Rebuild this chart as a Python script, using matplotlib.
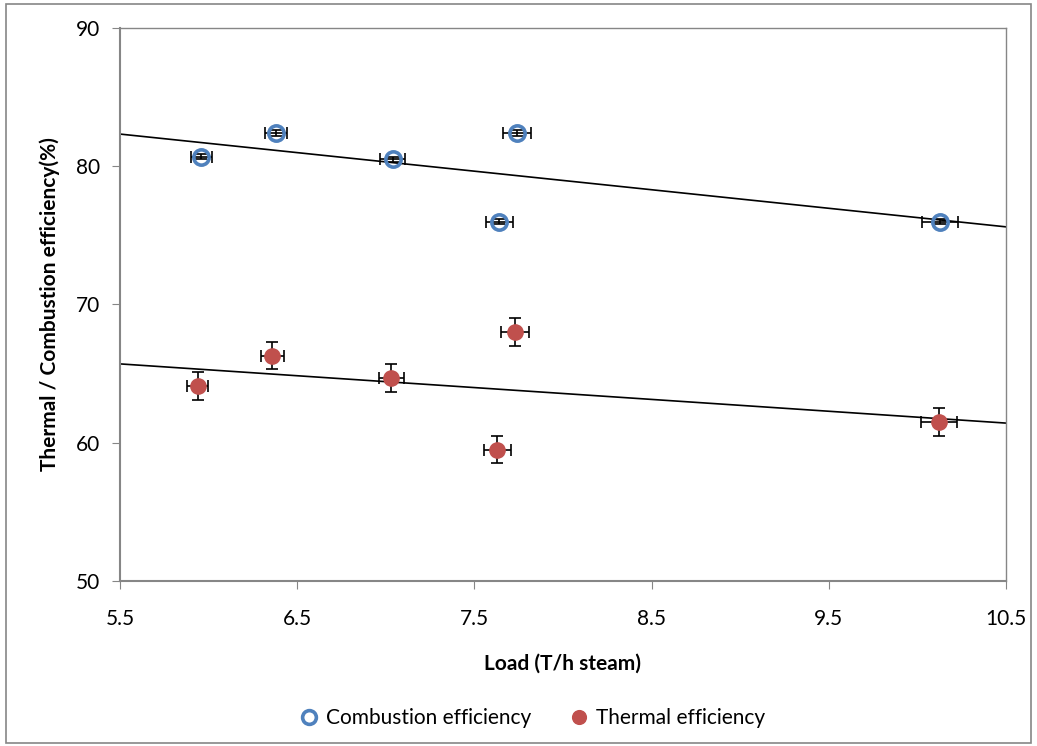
import numpy as np
import matplotlib.pyplot as plt
from matplotlib.patches import Rectangle

plt.rcParams['font.family'] = ['Lato', 'DejaVu Sans']

# load (T/h steam) and efficiencies (%)
load_comb = [5.96, 6.38, 7.04, 7.64, 7.74, 10.13]
comb_eff = [80.7, 82.4, 80.5, 76.0, 82.4, 76.0]
load_therm = [5.94, 6.36, 7.03, 7.63, 7.73, 10.12]
therm_eff = [64.1, 66.3, 64.7, 59.5, 68.0, 61.5]

comb_yerr = 0.2
therm_yerr = 1.0
xerr_frac = 0.01

xticks = [5.5, 6.5, 7.5, 8.5, 9.5, 10.5]
yticks = [50, 60, 70, 80, 90]

blue = '#4F81BD'
red = '#C0504D'
grey = '#868686'

fig = plt.figure(figsize=(10.37, 7.46), dpi=100)
ax = fig.add_axes([0.1157, 0.2212, 0.8544, 0.7413])

lc = np.array(load_comb)
lt = np.array(load_therm)

ax.errorbar(lc, comb_eff, xerr=lc * xerr_frac, yerr=comb_yerr, fmt='none',
            ecolor='black', elinewidth=1.2, capsize=4, capthick=1.2, zorder=3)
ax.plot(lc, comb_eff, 'o', ms=11, mfc='none', mec=blue, mew=2.6, zorder=4,
        label='Combustion efficiency')

ax.errorbar(lt, therm_eff, xerr=lt * xerr_frac, yerr=therm_yerr, fmt='none',
            ecolor='black', elinewidth=1.2, capsize=4, capthick=1.2, zorder=3)
ax.plot(lt, therm_eff, 'o', ms=11, mfc=red, mec=red, mew=1, zorder=4,
        label='Thermal efficiency')

# linear trendlines
xs = np.array([5.5, 10.5])
for x, y in [(lc, comb_eff), (lt, therm_eff)]:
    k, b = np.polyfit(x, y, 1)
    ax.plot(xs, k * xs + b, color='black', lw=1.2, zorder=2)

ax.set_xlim(5.5, 10.5)
ax.set_ylim(50, 90)
ax.set_xticks(xticks)
ax.set_yticks(yticks)
ax.set_xticklabels([str(t) for t in xticks])
ax.tick_params(direction='out', length=6, color=grey, labelsize=15)
ax.tick_params(axis='x', pad=14)
ax.tick_params(axis='y', pad=8)
for s in ax.spines.values():
    s.set_color(grey)
    s.set_linewidth(1.0)
ax.spines['left'].set_linewidth(1.5)
ax.spines['bottom'].set_linewidth(1.5)

ax.set_xlabel('Load (T/h steam)', fontsize=15, fontweight='bold', labelpad=18)
ax.set_ylabel('Thermal / Combustion efficiency(%)', fontsize=15,
              fontweight='bold', labelpad=12)

fig.legend(loc='center', bbox_to_anchor=(0.513, 0.037), ncol=2, frameon=False,
           fontsize=15, handlelength=1.0, handletextpad=0.3, columnspacing=1.8,
           markerscale=0.9)

fig.patches.append(Rectangle((0.006, 0.004), 0.988, 0.99, transform=fig.transFigure,
                             fill=False, edgecolor=grey, lw=1.2))

fig.savefig('out.png', dpi=100)
